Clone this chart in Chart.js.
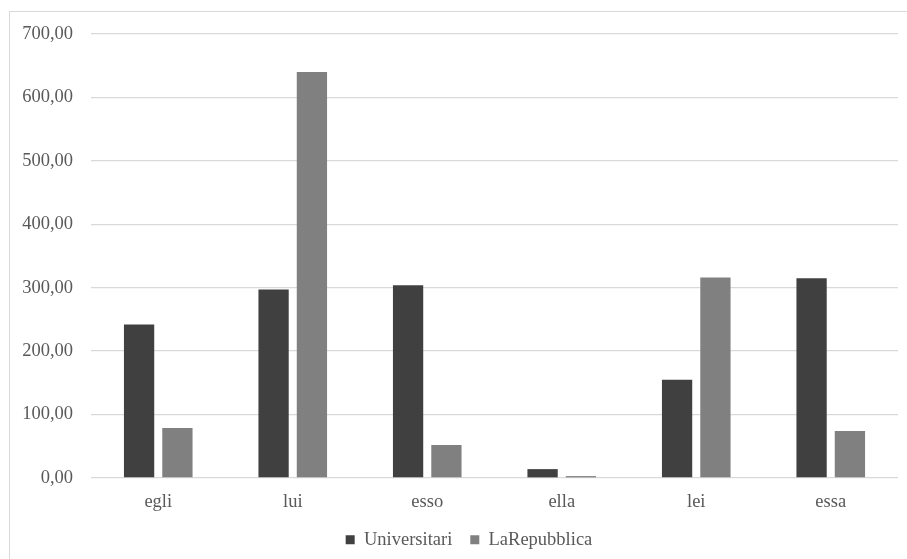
<!DOCTYPE html>
<html>
<head>
<meta charset="utf-8">
<script src="https://cdn.jsdelivr.net/npm/chart.js@4"></script>
<style>
  html, body { margin: 0; padding: 0; background: #fff; overflow: hidden; }
  #wrap { position: relative; width: 907px; height: 559px; }
  #frame { position: absolute; left: 9px; top: 11px; width: 1000px; height: 1000px; border: 1px solid #d9d9d9; box-sizing: border-box; pointer-events: none; }
  canvas { position: absolute; left: 0; top: 0; }
</style>
</head>
<body>
<div id="wrap">
  <div id="frame"></div>
  <canvas id="c" width="907" height="559"></canvas>
</div>
<script>
const categories = ["egli", "lui", "esso", "ella", "lei", "essa"];
const universitari = [242, 297, 304, 14, 155, 315];
const laRepubblica = [79, 640, 52, 3, 316, 74];
const seriesNames = ["Universitari", "LaRepubblica"];
const yMax = 700;
const yStep = 100;

const FONT = "'Liberation Serif', 'Times New Roman', serif";
const TEXT = "#595959";

const legendShift = {
  id: 'legendShift',
  afterLayout(chart) {
    const lg = chart.legend;
    if (lg) { lg.left += 20; lg.right += 20; }
  }
};

new Chart(document.getElementById('c'), {
  type: 'bar',
  data: {
    labels: categories,
    datasets: [
      { label: seriesNames[0], data: universitari, backgroundColor: '#404040',
        categoryPercentage: 0.57, barPercentage: 0.79 },
      { label: seriesNames[1], data: laRepubblica, backgroundColor: '#808080',
        categoryPercentage: 0.57, barPercentage: 0.79 }
    ]
  },
  plugins: [legendShift],
  options: {
    responsive: false,
    animation: false,
    devicePixelRatio: 1,
    layout: { padding: { left: 0, right: 9, top: 34, bottom: 0 } },
    plugins: {
      tooltip: { enabled: false },
      legend: {
        position: 'bottom',
        labels: {
          boxWidth: 9, boxHeight: 9, padding: 18,
          color: TEXT,
          font: { family: FONT, size: 18.5 }
        }
      }
    },
    scales: {
      x: {
        grid: { display: false, drawTicks: false },
        border: { display: false },
        ticks: { color: TEXT, font: { family: FONT, size: 18.5 }, padding: 13 },
        afterFit: (s) => { s.height = 34.5; }
      },
      y: {
        min: 0, max: yMax,
        grid: { color: '#d9d9d9', lineWidth: 1.3, drawTicks: false },
        border: { display: false },
        ticks: {
          stepSize: yStep,
          color: TEXT,
          font: { family: FONT, size: 18.5 },
          padding: 18,
          callback: (v) => v.toFixed(2).replace('.', ',')
        },
        afterFit: (s) => { s.width = 91; }
      }
    }
  }
});
</script>
</body>
</html>
